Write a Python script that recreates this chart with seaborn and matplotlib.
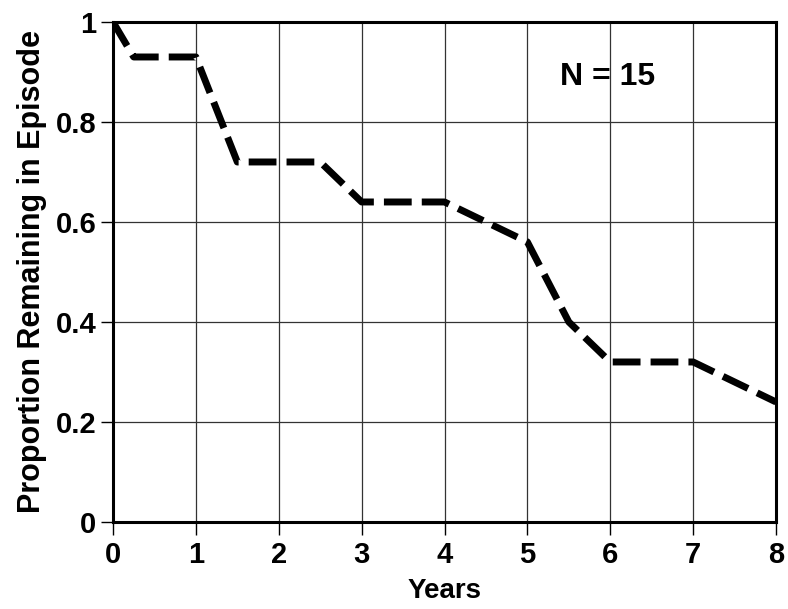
import numpy as np
import pandas as pd
import matplotlib
matplotlib.use("Agg")
import matplotlib.pyplot as plt
import seaborn as sns

# values
years = [0, 0.25, 1, 1.5, 2.5, 3, 4, 5, 5.5, 6, 7, 8]
proportion = [1.0, 0.93, 0.93, 0.72, 0.72, 0.64, 0.64, 0.56, 0.40, 0.32, 0.32, 0.24]
x_ticks = [0, 1, 2, 3, 4, 5, 6, 7, 8]
y_ticks = [0, 0.2, 0.4, 0.6, 0.8, 1]
y_tick_labels = ["0", "0.2", "0.4", "0.6", "0.8", "1"]

df = pd.DataFrame({"Years": years, "Proportion": proportion})

sns.set_style("ticks")
plt.rcParams["font.family"] = ["Liberation Sans", "DejaVu Sans"]
plt.rcParams["font.weight"] = "bold"
plt.rcParams["text.color"] = "black"
plt.rcParams["axes.labelcolor"] = "black"

fig = plt.figure(figsize=(7.88, 6.09), dpi=100)
ax = fig.add_axes([0.1434, 0.1429, 0.8414, 0.821])

sns.lineplot(data=df, x="Years", y="Proportion", ax=ax, color="black",
             linewidth=5, estimator=None, sort=False)
ax.lines[0].set_dashes((4.0, 1.45))
ax.lines[0].set_dash_capstyle("butt")

ax.set_xlim(0, 8)
ax.set_ylim(0, 1)
ax.set_xticks(x_ticks)
ax.set_yticks(y_ticks)
ax.set_yticklabels(y_tick_labels)
ax.grid(True, color="#333333", linewidth=0.9)
ax.set_axisbelow(True)

for s in ax.spines.values():
    s.set_visible(True)
    s.set_color("black")
    s.set_linewidth(2.2)

ax.tick_params(axis="both", direction="out", length=9, width=1.0,
               labelsize=21, color="black", labelcolor="black")
ax.tick_params(axis="x", pad=5)
ax.tick_params(axis="y", pad=3)
for lab in ax.get_xticklabels() + ax.get_yticklabels():
    lab.set_fontweight("bold")

ax.set_xlabel("Years", fontsize=20, fontweight="bold", labelpad=6)
ax.set_ylabel("Proportion Remaining in Episode", fontsize=22,
              fontweight="bold", labelpad=6)

ax.text(5.97, 0.89, "N = 15", fontsize=23, fontweight="bold",
        ha="center", va="center")

fig.savefig("out.png", dpi=100)
